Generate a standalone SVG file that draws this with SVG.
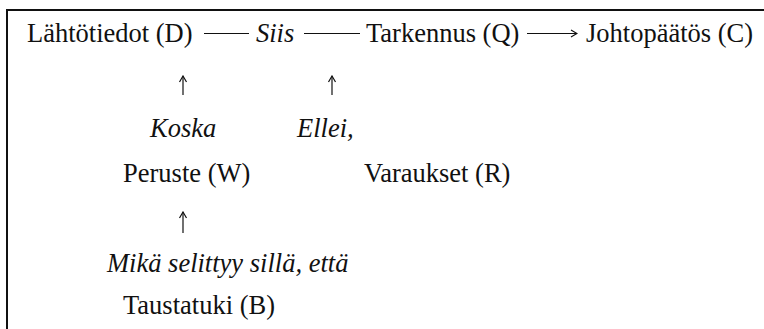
<svg xmlns="http://www.w3.org/2000/svg" width="764" height="329" viewBox="0 0 764 329">
  <defs>
    <style>
      .lbl { font-family: 'Liberation Serif', 'Times New Roman', serif; font-size: 26.5px; fill: #111; }
      .ital { font-style: italic; }
      .conn { stroke: #111; stroke-width: 1.2; fill: none; }
      .frame { stroke: #111; stroke-width: 2; fill: none; }
    </style>
    <marker id="ah" viewBox="0 0 10 10" refX="9" refY="5" markerWidth="10" markerHeight="10" markerUnits="userSpaceOnUse" orient="auto">
      <path d="M3,1.5 L9,5 L3,8.5" stroke="#111" stroke-width="1.2" fill="none"/>
    </marker>
  </defs>
  <rect width="764" height="329" fill="#fff"/>
  <path class="frame" d="M7,329 L7,10 L764,10"/>

  <g id="connectors">
    <line class="conn" x1="204" y1="33.5" x2="249" y2="33.5"/>
    <line class="conn" x1="304" y1="33.5" x2="360" y2="33.5"/>
    <line class="conn" x1="527" y1="33.5" x2="577" y2="33.5" marker-end="url(#ah)"/>
    <line class="conn" x1="183" y1="95" x2="183" y2="76" marker-end="url(#ah)"/>
    <line class="conn" x1="332" y1="95" x2="332" y2="76" marker-end="url(#ah)"/>
    <line class="conn" x1="183" y1="233" x2="183" y2="212" marker-end="url(#ah)"/>
  </g>

  <g id="data"><text class="lbl" x="27" y="42">Lähtötiedot (D)</text></g>
  <g id="siis"><text class="lbl ital" x="256" y="42">Siis</text></g>
  <g id="qualifier"><text class="lbl" x="366" y="42">Tarkennus (Q)</text></g>
  <g id="claim"><text class="lbl" x="586" y="42">Johtopäätös (C)</text></g>
  <g id="koska"><text class="lbl ital" x="150" y="137">Koska</text></g>
  <g id="ellei"><text class="lbl ital" x="297" y="137">Ellei,</text></g>
  <g id="warrant"><text class="lbl" x="123" y="182">Peruste (W)</text></g>
  <g id="rebuttal"><text class="lbl" x="364" y="182">Varaukset (R)</text></g>
  <g id="mika"><text class="lbl ital" x="107" y="272">Mikä selittyy sillä, että</text></g>
  <g id="backing"><text class="lbl" x="123" y="314">Taustatuki (B)</text></g>
</svg>
